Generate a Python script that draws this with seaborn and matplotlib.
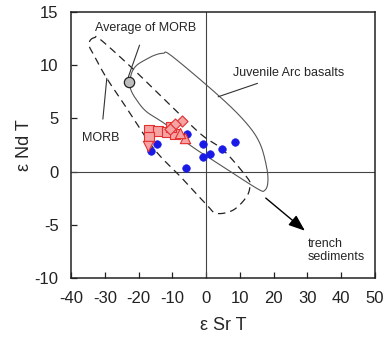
import numpy as np
import pandas as pd
import matplotlib
matplotlib.use("Agg")
import matplotlib.pyplot as plt
import seaborn as sns

# ---- data ----
blue_x = [-16.4, -14.6, -5.5, -6.0, -0.8, -0.8, 1.1, 4.8, 8.7]
blue_y = [1.96, 2.56, 3.53, 0.31, 2.56, 1.34, 1.68, 2.15, 2.81]

sq_x = [-17.0, -14.2, -11.6, -9.2, -10.4, -16.9]
sq_y = [3.9, 3.85, 3.7, 3.5, 4.2, 3.3]
dia_x = [-7.0, -9.2, -10.8]
dia_y = [4.75, 4.45, 4.0]
tup_x = [-6.3, -7.6]
tup_y = [3.2, 3.6]
tdn_x = [-17.1]
tdn_y = [2.45]

avg_morb_x = [-22.8]
avg_morb_y = [8.45]

morb_x = [-34.3, -33.0, -31.4, -22.5, -13.65, -1.8, 5.09, 12.0, 13.0, 12.0, 8.05, 3.13, 0.26,
          -6.84, -15.13, -22.5, -29.4, -32.9, -34.6]
morb_y = [12.35, 12.6, 12.45, 9.92, 7.2, 3.6, 2.03, -0.48, -1.26, -2.36, -3.61, -3.92, -3.14,
          -0.70, 2.03, 5.5, 8.77, 10.77, 11.8]

juv_x = [-22.53, -21.94, -20.46, -17.6, -15.13, -12.68, -10.1, 4.11, 12.0, 15.95, 17.93,
         18.32, 17.4, 15.2, 5.09, -4.77, -11.67, -17.6, -20.55, -22.24]
juv_y = [8.42, 9.36, 10.02, 10.58, 10.96, 11.12, 10.86, 7.04, 4.54, 2.66, 0.46,
         -0.98, -1.75, -1.6, 0.46, 2.5, 4.38, 5.63, 6.73, 7.67]

x_ticks = [-40, -30, -20, -10, 0, 10, 20, 30, 40, 50]
y_ticks = [-10, -5, 0, 5, 10, 15]


def closed_spline(xs, ys, n=20):
    p = np.column_stack([xs, ys])
    m = len(p)
    out = []
    for i in range(m):
        p0, p1, p2, p3 = p[(i - 1) % m], p[i], p[(i + 1) % m], p[(i + 2) % m]
        t = np.linspace(0, 1, n, endpoint=False)[:, None]
        seg = 0.5 * ((2 * p1) + (-p0 + p2) * t + (2 * p0 - 5 * p1 + 4 * p2 - p3) * t ** 2
                     + (-p0 + 3 * p1 - 3 * p2 + p3) * t ** 3)
        out.append(seg)
    out.append(p[:1])
    out = np.vstack(out)
    return out[:, 0], out[:, 1]


sns.set_style("white")
plt.rcParams["font.family"] = ["Liberation Sans", "DejaVu Sans"]
plt.rcParams["axes.unicode_minus"] = False

fig = plt.figure(figsize=(3.88, 3.45), dpi=100)
ax = fig.add_axes([0.183, 0.194, 0.783, 0.771])

ax.axhline(0, color="#444444", lw=0.8, zorder=1)
ax.axvline(0, color="#444444", lw=0.8, zorder=1)

mx, my = closed_spline(morb_x, morb_y)
ax.plot(mx, my, color="#222222", lw=0.9, ls=(0, (6, 4)), zorder=2)
jx, jy = closed_spline(juv_x, juv_y)
ax.plot(jx, jy, color="#555555", lw=0.8, zorder=2)

blue = pd.DataFrame({"x": blue_x, "y": blue_y})
sns.scatterplot(data=blue, x="x", y="y", ax=ax, color="#1a1ae6", edgecolor="#1a1ae6",
                s=30, marker="o", zorder=4, legend=False)

red_fill = "#f5a3a3"
red_edge = "#e53030"
for xs, ys, mk, s in [(sq_x, sq_y, "s", 52), (dia_x, dia_y, "D", 32),
                      (tup_x, tup_y, "^", 55), (tdn_x, tdn_y, "v", 55)]:
    df = pd.DataFrame({"x": xs, "y": ys})
    sns.scatterplot(data=df, x="x", y="y", ax=ax, marker=mk, s=s, color=red_fill,
                    edgecolor=red_edge, linewidth=0.8, zorder=5, legend=False)

sns.scatterplot(x=avg_morb_x, y=avg_morb_y, ax=ax, s=55, color="#bdbdbd",
                edgecolor="#222222", linewidth=0.9, zorder=6, legend=False)

# annotations
ax.annotate("Average of MORB", xy=(-23.0, 8.92), xytext=(-17.9, 13.5),
            ha="center", va="center", fontsize=9,
            arrowprops=dict(arrowstyle="-", color="#333333", lw=0.8, shrinkA=6, shrinkB=0))
ax.annotate("MORB", xy=(-29.4, 8.77), xytext=(-31.1, 3.16),
            ha="center", va="center", fontsize=9,
            arrowprops=dict(arrowstyle="-", color="#333333", lw=0.8, shrinkA=7, shrinkB=0))
ax.annotate("Juvenile Arc basalts", xy=(3.6, 7.04), xytext=(8.0, 9.3),
            ha="left", va="center", fontsize=9,
            arrowprops=dict(arrowstyle="-", color="#333333", lw=0.8, shrinkA=3, shrinkB=0))
ax.annotate("", xy=(29.3, -5.55), xytext=(17.7, -2.48),
            arrowprops=dict(arrowstyle="-|>,head_length=1.0,head_width=0.38",
                            color="black", lw=1.0, shrinkA=0, shrinkB=0))
ax.text(30.2, -6.2, "trench\nsediments", ha="left", va="top", fontsize=9, linespacing=1.1)

ax.set_xlim(-40, 50)
ax.set_ylim(-10, 15)
ax.set_xticks(x_ticks)
ax.set_yticks(y_ticks)
ax.set_xticklabels([str(v) for v in x_ticks])
ax.set_yticklabels([str(v) for v in y_ticks])
ax.tick_params(axis="both", direction="in", length=4, width=0.9, labelsize=12,
               colors="#222222", bottom=True, left=True, top=False, right=False)
ax.tick_params(axis="x", pad=9)
ax.tick_params(axis="y", pad=9)
for sp in ax.spines.values():
    sp.set_visible(True)
    sp.set_color("#222222")
    sp.set_linewidth(1.1)

ax.set_xlabel("ε Sr T", fontsize=13, labelpad=8)
ax.set_ylabel("ε Nd T", fontsize=13, labelpad=1)

fig.savefig("out.png", dpi=100)
